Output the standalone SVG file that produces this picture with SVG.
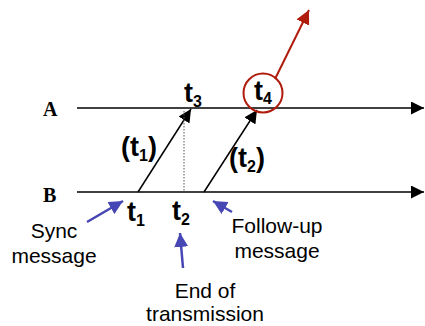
<svg xmlns="http://www.w3.org/2000/svg" width="425" height="326" viewBox="0 0 425 326">
<style>
.ln{stroke:#000;stroke-width:1.5;fill:none}
.lbl{font-family:"Liberation Serif",serif;font-weight:bold;font-size:20px}
.t{font-family:"Liberation Sans",Arial,sans-serif;font-weight:bold;font-size:27px}
.s{font-size:16px}
.cap{font-family:"Liberation Sans",Arial,sans-serif;font-size:21px;text-anchor:middle}
.blue{stroke:#4646b4;stroke-width:2.5;fill:none}
</style>
<defs>
<marker id="ahL" viewBox="0 0 10 10" refX="10" refY="5" markerWidth="13" markerHeight="13" markerUnits="userSpaceOnUse" orient="auto"><path d="M0,0L10,5L0,10z" fill="#000"/></marker>
<marker id="ahR" viewBox="0 0 10 10" refX="10" refY="5" markerWidth="14" markerHeight="14" markerUnits="userSpaceOnUse" orient="auto"><path d="M0,0L10,5L0,10z" fill="#b01c0c"/></marker>
<marker id="ahB" viewBox="0 0 10 10" refX="10" refY="5" markerWidth="14" markerHeight="14" markerUnits="userSpaceOnUse" orient="auto"><path d="M0,0L10,5L0,10z" fill="#4646b4"/></marker>
</defs>
<g id="lineA">
<line class="ln" x1="77" y1="108" x2="424" y2="108" marker-end="url(#ahL)"/>
<text class="lbl" x="43" y="116">A</text>
</g>
<g id="lineB">
<line class="ln" x1="77" y1="192" x2="424" y2="192" marker-end="url(#ahL)"/>
<text class="lbl" x="43" y="202">B</text>
</g>
<g id="connectors">
<line class="ln" x1="138" y1="192" x2="191" y2="109" marker-end="url(#ahL)"/>
<line x1="184" y1="111" x2="184" y2="192" stroke="#555" stroke-width="1" stroke-dasharray="1.5,1.5"/>
<line class="ln" x1="204" y1="192" x2="257" y2="110" marker-end="url(#ahL)"/>
<line x1="275" y1="79" x2="309" y2="10" stroke="#b01c0c" stroke-width="2" marker-end="url(#ahR)"/>
<line class="blue" x1="87" y1="222" x2="123" y2="201" marker-end="url(#ahB)"/>
<line class="blue" x1="232" y1="212" x2="213" y2="201" marker-end="url(#ahB)"/>
<line class="blue" x1="183" y1="268" x2="180" y2="233" marker-end="url(#ahB)"/>
</g>
<g id="t3"><text class="t" x="184" y="102">t<tspan class="s" dy="5">3</tspan></text></g>
<g id="t4">
<circle cx="263" cy="93" r="19.5" fill="none" stroke="#b01c0c" stroke-width="2"/>
<text class="t" x="254" y="100">t<tspan class="s" dy="4">4</tspan></text>
</g>
<g id="dt1"><text class="t" x="121" y="156">(t<tspan class="s" dy="5">1</tspan><tspan dy="-5">)</tspan></text></g>
<g id="dt2"><text class="t" x="229" y="167">(t<tspan class="s" dy="5">2</tspan><tspan dy="-5">)</tspan></text></g>
<g id="t1"><text class="t" x="127" y="221">t<tspan class="s" dy="5">1</tspan></text></g>
<g id="t2"><text class="t" x="172" y="220">t<tspan class="s" dy="5">2</tspan></text></g>
<g id="sync"><text class="cap" x="54" y="238">Sync</text><text class="cap" x="54" y="263">message</text></g>
<g id="followup"><text class="cap" x="277" y="233">Follow-up</text><text class="cap" x="277" y="258">message</text></g>
<g id="eot"><text class="cap" x="205" y="298">End of</text><text class="cap" x="205" y="321">transmission</text></g>
</svg>
